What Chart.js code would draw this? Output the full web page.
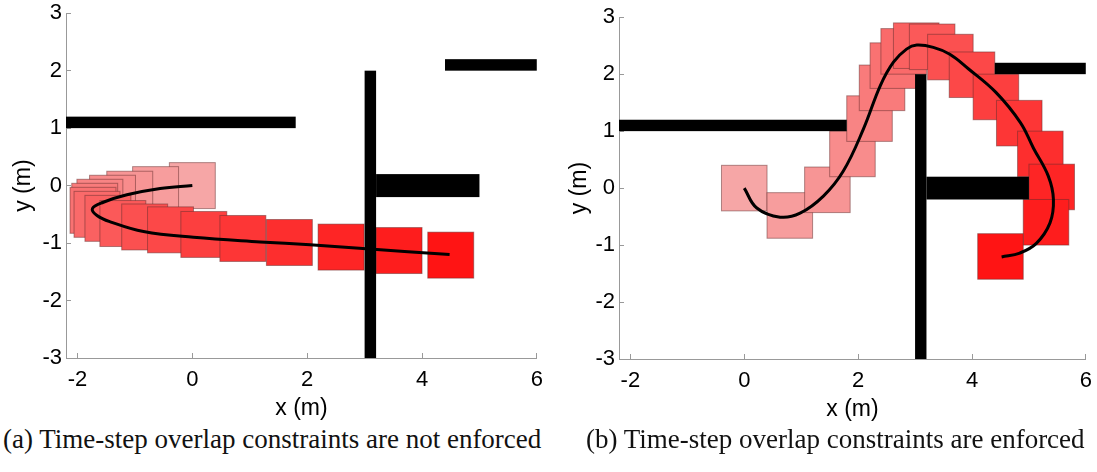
<!DOCTYPE html>
<html>
<head>
<meta charset="utf-8">
<script src="https://cdn.jsdelivr.net/npm/chart.js@4.4.0/dist/chart.umd.min.js"></script>
<style>
  body { margin: 0; width: 1097px; height: 472px; background: #fff; position: relative; overflow: hidden; }
  canvas { position: absolute; }
  .cap { position: absolute; top: 423px; font-family: "Liberation Serif", serif; font-size: 27px; line-height: 32px; white-space: nowrap; color: #111; }
</style>
</head>
<body>
<canvas id="graficaA" width="557" height="431" style="left:0;top:-9px"></canvas>
<canvas id="graficaB" width="553" height="428" style="left:553px;top:-5px"></canvas>
<div class="cap" style="left:3px">(a) Time-step overlap constraints are not enforced</div>
<div class="cap" style="left:586px">(b) Time-step overlap constraints are enforced</div>
<script>
// ejes
const xTicks = [-2, 0, 2, 4, 6];
const yTicks = [-3, -2, -1, 0, 1, 2, 3];

// obstaculos (m)
const obsX0 = [-2.2, 4.4, 3.0, 3.2];
const obsX1 = [1.8, 6.0, 3.2, 5.0];
const obsY0 = [1.0, 2.0, -3.0, -0.2];
const obsY1 = [1.2, 2.2, 2.0, 0.2];

// lado del robot (m)
const robotSize = 0.8;

// (a) posiciones en cada paso
const stepXA = [0, -0.64, -1.09, -1.39, -1.61, -1.70, -1.73, -1.66, -1.47, -1.21, -0.83, -0.38, 0.20, 0.88, 1.69, 2.59, 3.60, 4.50];
const stepYA = [0, -0.07, -0.15, -0.22, -0.29, -0.36, -0.43, -0.50, -0.57, -0.66, -0.72, -0.77, -0.85, -0.92, -0.99, -1.07, -1.13, -1.21];
const pathXA = [0, -0.56, -1.14, -1.55, -1.74, -1.66, -1.43, -0.85, 0.02, 1.18, 2.05, 3.03, 4.48];
const pathYA = [0, -0.05, -0.16, -0.29, -0.40, -0.52, -0.63, -0.80, -0.90, -0.98, -1.03, -1.10, -1.20];

// (b)
const stepXB = [0, 0.80, 1.46, 1.90, 2.20, 2.42, 2.61, 2.80, 3.02, 3.30, 3.62, 4.00, 4.42, 4.83, 5.20, 5.40, 5.30, 4.50];
const stepYB = [0, -0.48, -0.03, 0.60, 1.22, 1.76, 2.15, 2.40, 2.50, 2.48, 2.30, 1.99, 1.60, 1.14, 0.60, 0.02, -0.60, -1.20];
const pathXB = [0, 0.22, 0.63, 0.98, 1.39, 1.74, 2.09, 2.39, 2.62, 2.85, 3.03, 3.32, 3.61, 3.93, 4.42, 4.85, 5.08, 5.34, 5.43, 5.37, 5.13, 4.84, 4.52];
const pathYB = [0, -0.35, -0.51, -0.44, -0.14, 0.30, 1.03, 1.80, 2.21, 2.44, 2.51, 2.47, 2.35, 2.10, 1.68, 1.15, 0.70, 0.21, -0.20, -0.61, -0.97, -1.14, -1.21];

function tono(t) {
  const r = Math.round(246 + 9 * t);
  const g = Math.round(166 - 146 * t);
  return "rgb(" + r + "," + g + "," + g + ")";
}

// cuadros del robot y obstaculos, dibujados con las escalas del grafico
const huellas = {
  id: "huellas",
  beforeDatasetsDraw(chart, args, opts) {
    const { ctx, chartArea: a, scales: { x, y } } = chart;
    const h = robotSize / 2;
    ctx.save();
    ctx.beginPath();
    ctx.rect(a.left, a.top, a.right - a.left, a.bottom - a.top);
    ctx.clip();
    const n = opts.sx.length;
    opts.sx.forEach((cx, i) => {
      const cy = opts.sy[i];
      const x0 = x.getPixelForValue(cx - h), x1 = x.getPixelForValue(cx + h);
      const y0 = y.getPixelForValue(cy + h), y1 = y.getPixelForValue(cy - h);
      ctx.fillStyle = tono(i / (n - 1));
      ctx.fillRect(x0, y0, x1 - x0, y1 - y0);
      ctx.strokeStyle = "rgba(100,45,45,0.5)";
      ctx.lineWidth = 1;
      ctx.strokeRect(x0, y0, x1 - x0, y1 - y0);
    });
    ctx.fillStyle = "#000";
    obsX0.forEach((v, i) => {
      const x0 = x.getPixelForValue(v), x1 = x.getPixelForValue(obsX1[i]);
      const y0 = y.getPixelForValue(obsY1[i]), y1 = y.getPixelForValue(obsY0[i]);
      ctx.fillRect(x0, y0, x1 - x0, y1 - y0);
    });
    ctx.restore();
  }
};

function crearGrafica(id, sx, sy, px, py, padTitulo) {
  const fuente = { family: "Liberation Sans", size: 22 };
  const fuenteTitulo = { family: "Liberation Sans", size: 23 };
  const rejilla = { display: true, drawOnChartArea: false, drawTicks: true, tickLength: -5, color: "#999" };
  return new Chart(document.getElementById(id), {
    type: "scatter",
    data: {
      datasets: [{
        data: px.map((v, i) => ({ x: v, y: py[i] })),
        showLine: true,
        borderColor: "#000",
        borderWidth: 3,
        pointRadius: 0,
        tension: 0.4,
        fill: false
      }]
    },
    options: {
      responsive: false,
      animation: false,
      devicePixelRatio: 1,
      layout: { padding: 0 },
      plugins: {
        legend: { display: false },
        tooltip: { enabled: false },
        huellas: { sx: sx, sy: sy }
      },
      scales: {
        x: {
          type: "linear", min: -2.2, max: 6,
          afterBuildTicks: s => { s.ticks = xTicks.map(v => ({ value: v })); },
          afterFit: s => { s.height = 64; },
          grid: rejilla,
          border: { display: true, color: "#999", width: 1 },
          ticks: { padding: 14, color: "#000", font: fuente },
          title: { display: true, text: "x (m)", color: "#000", font: fuenteTitulo, padding: 0 }
        },
        y: {
          type: "linear", min: -3, max: 3,
          afterBuildTicks: s => { s.ticks = yTicks.map(v => ({ value: v })); },
          afterFit: s => { s.width = 66; },
          grid: rejilla,
          border: { display: true, color: "#999", width: 1 },
          ticks: { padding: 9, color: "#000", font: fuente },
          title: { display: true, text: "y (m)", color: "#000", font: fuenteTitulo, padding: { top: padTitulo, bottom: 0 } }
        }
      }
    },
    plugins: [huellas]
  });
}

crearGrafica("graficaA", stepXA, stepYA, pathXA, pathYA, 10);
crearGrafica("graficaB", stepXB, stepYB, pathXB, pathYB, 13);
</script>
</body>
</html>
